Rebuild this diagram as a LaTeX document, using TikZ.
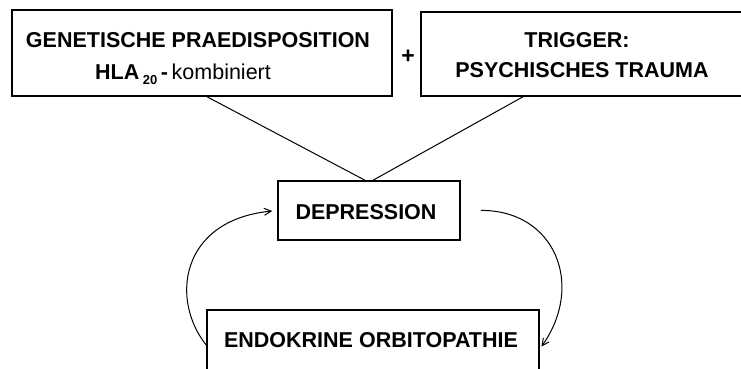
\documentclass[tikz,border=0pt]{standalone}
\usepackage{fontspec}
\setmainfont{Liberation Sans}
\usetikzlibrary{arrows.meta,calc}
\begin{document}
\begin{tikzpicture}[x=1pt,y=-1pt,
  box/.style={draw,line width=1.5pt,inner sep=0pt},
  lbl/.style={inner sep=0pt,font=\fontsize{21.5}{22}\selectfont\bfseries},
  link/.style={line width=1pt},
  loop/.style={line width=1pt,-{Straight Barb[length=7pt,width=7pt]}}]
\useasboundingbox (0,0) rectangle (741,368);
\begin{scope}
\clip (0,0) rectangle (741,368);
\node[box,minimum width=380pt,minimum height=86pt] (g) at (202,53) {};
\node[box,minimum width=324pt,minimum height=84pt] (t) at (583,54) {};
\node[box,minimum width=182pt,minimum height=59pt] (d) at (369,210.5) {};
\node[box,minimum width=332pt,minimum height=66pt] (e) at (373,343) {};
\end{scope}
\node[lbl,anchor=base] (g1) at (198,47.5) {GENETISCHE PRAEDISPOSITION};
\node[lbl,anchor=base] (g2) at (183,79.5) {HLA\,{\fontsize{13}{13}\selectfont\raisebox{-5pt}{20}}\,-\,{\mdseries kombiniert}};
\node[lbl,anchor=base] (t1) at (577,47.5) {TRIGGER:};
\node[lbl,anchor=base] (t2) at (582,77.5) {PSYCHISCHES TRAUMA};
\node[lbl,anchor=base] (dt) at (366,219.5) {DEPRESSION};
\node[lbl,anchor=base] (et) at (371,347) {ENDOKRINE ORBITOPATHIE};
\node[font=\fontsize{23}{23}\selectfont\bfseries] (plus) at (408,57) {+};
\draw[link] ([xshift=5pt]g.south) -- ([xshift=-4pt]d.north);
\draw[link] ([xshift=-60pt]t.south) -- ([xshift=4pt]d.north);
\draw[loop,shorten >=5pt] ([yshift=-2pt]e.west) .. controls (170,300) and (180,220) .. (d.west);
\draw[loop,shorten <=20pt,shorten >=3pt] (d.east) .. controls (555,210) and (585,285) .. ([yshift=-6pt]e.east);
\end{tikzpicture}
\end{document}
